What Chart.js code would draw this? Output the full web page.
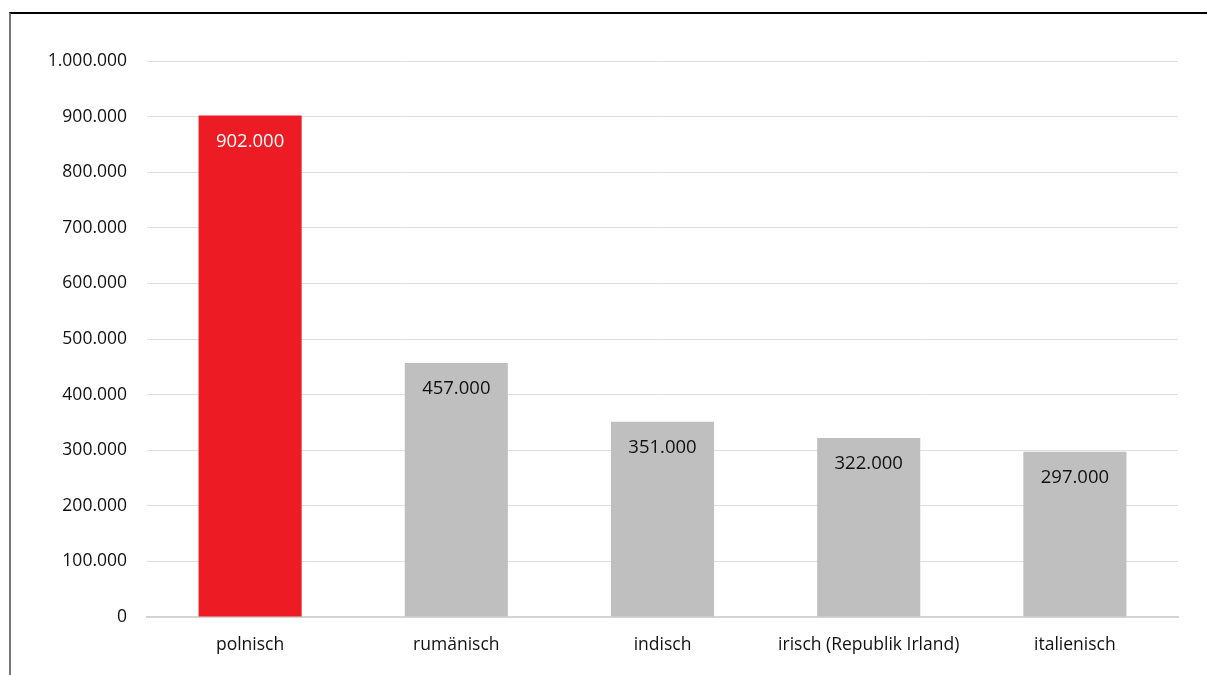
<!DOCTYPE html>
<html>
<head>
<meta charset="utf-8">
<script src="https://cdn.jsdelivr.net/npm/chart.js@4"></script>
<style>
  html, body { margin: 0; padding: 0; background: #fff; }
  body { width: 1207px; height: 675px; overflow: hidden; position: relative; }
  #frame { position: absolute; left: 9px; top: 12px; right: -2px; bottom: -2px;
           border-top: 2px solid #000; border-left: 2px solid #777; }
  #wrap { position: absolute; left: 11px; top: 15px; width: 1196px; height: 660px; }
</style>
</head>
<body>
<div id="frame"></div>
<div id="wrap"><canvas id="chart"></canvas></div>
<script>
  const categories = ['polnisch', 'rumänisch', 'indisch', 'irisch (Republik Irland)', 'italienisch'];
  const values = [902000, 457000, 351000, 322000, 297000];
  const barColors = ['#ed1c24', '#bfbfbf', '#bfbfbf', '#bfbfbf', '#bfbfbf'];
  const labelColors = ['#ffffff', '#111111', '#111111', '#111111', '#111111'];

  const fmt = v => String(Math.round(v)).replace(/\B(?=(\d{3})+(?!\d))/g, '.');
  const FONT = '"Open Sans", "Noto Sans", sans-serif';

  const valueLabels = {
    id: 'valueLabels',
    afterDatasetsDraw(chart) {
      const ctx = chart.ctx;
      const meta = chart.getDatasetMeta(0);
      ctx.save();
      ctx.font = '18.5px ' + FONT;
      ctx.textAlign = 'center';
      ctx.textBaseline = 'middle';
      meta.data.forEach((bar, i) => {
        ctx.fillStyle = labelColors[i];
        ctx.fillText(fmt(values[i]), bar.x, bar.y + 26);
      });
      ctx.restore();
    }
  };

  new Chart(document.getElementById('chart'), {
    type: 'bar',
    data: {
      labels: categories,
      datasets: [{ data: values, backgroundColor: barColors, categoryPercentage: 1, barPercentage: 0.5 }]
    },
    options: {
      responsive: true,
      maintainAspectRatio: false,
      animation: false,
      layout: { padding: { top: 46, right: 29, bottom: 12, left: 0 } },
      plugins: { legend: { display: false }, tooltip: { enabled: false } },
      scales: {
        x: {
          grid: { display: false, drawTicks: false },
          border: { display: true, color: '#d4d4d4', width: 2 },
          ticks: { color: '#111111', font: { family: FONT, size: 17.5 }, padding: 18 },
          afterFit(s) { s.height = 46; }
        },
        y: {
          min: 0, max: 1000000,
          grid: { color: '#dedede', lineWidth: 1, drawTicks: false },
          border: { display: false },
          ticks: { stepSize: 100000, color: '#111111', font: { family: FONT, size: 17.5 }, padding: 20, callback: v => fmt(v) },
          afterFit(s) { s.width = 136; }
        }
      }
    },
    plugins: [valueLabels]
  });
</script>
</body>
</html>
